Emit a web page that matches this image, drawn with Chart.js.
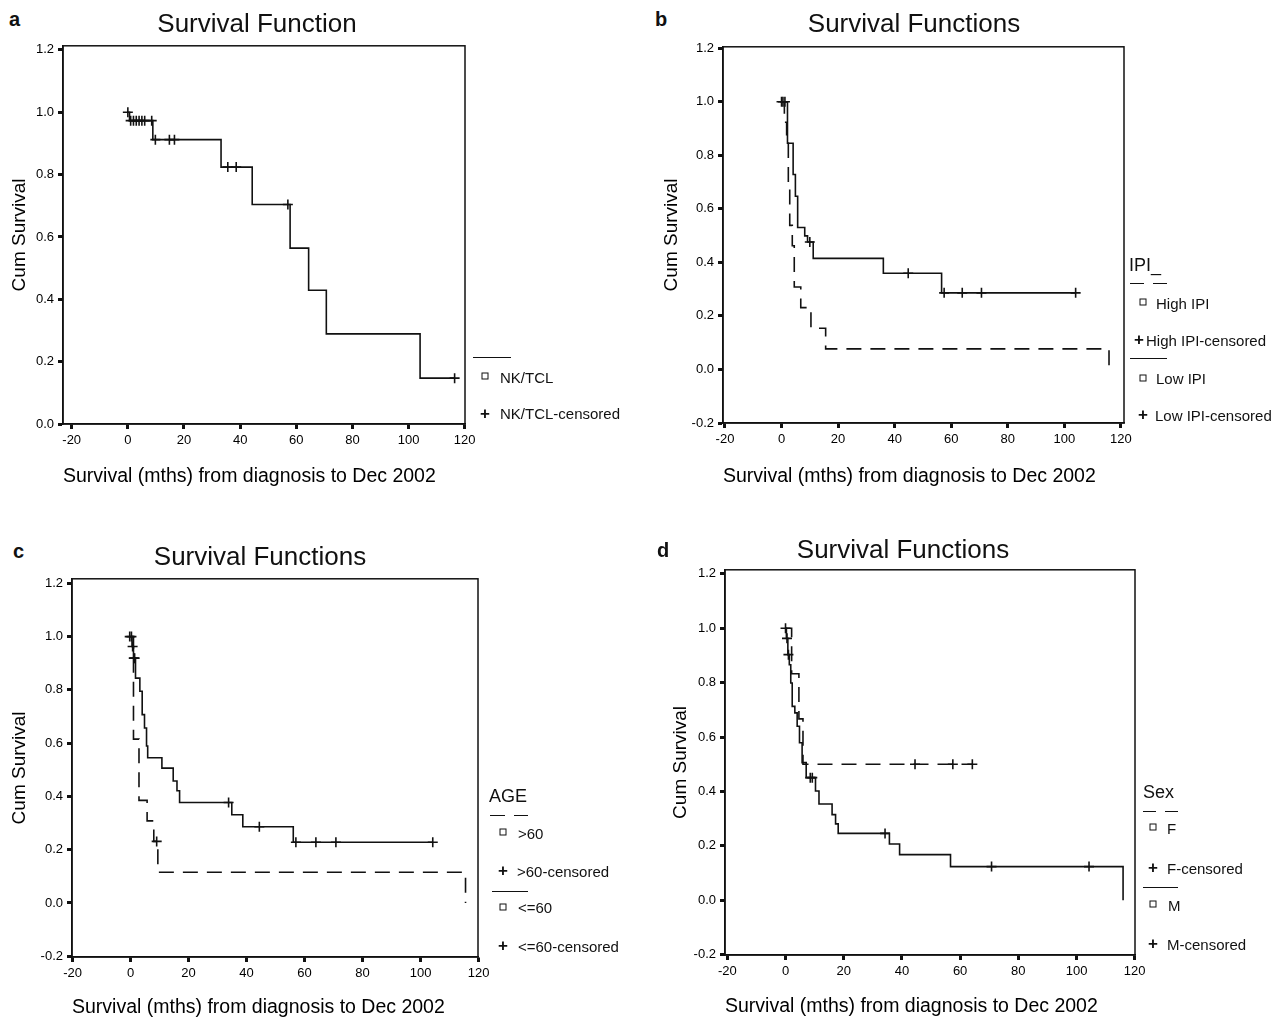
<!DOCTYPE html>
<html>
<head>
<meta charset="utf-8">
<script src="https://cdn.jsdelivr.net/npm/chart.js@4.4.1/dist/chart.umd.min.js"></script>
<style>
body { margin: 0; background: #fff; font-family: 'Liberation Sans', Arial, sans-serif; }
#page { position: relative; width: 1283px; height: 1022px; overflow: hidden; background: #fff; }
canvas { position: absolute; }
.txt { position: absolute; white-space: nowrap; color: #111; line-height: 1; transform: translateY(-50%); }
.ttl { transform: translate(-50%, -50%); }
.ln { position: absolute; height: 0; border-top: 1.6px solid #111; }
.sq { position: absolute; width: 5px; height: 5px; border: 1.5px solid #111; transform: translate(-50%, -50%); }
</style>
</head>
<body>
<div id="page"></div>
<script>
// tick labels shared by all panels
const xTickVals = [-20, 0, 20, 40, 60, 80, 100, 120];
const yTickValsA = [0, 0.2, 0.4, 0.6, 0.8, 1.0, 1.2];
const yTickVals = [-0.2, 0, 0.2, 0.4, 0.6, 0.8, 1.0, 1.2];

// panel a - NK/TCL
const aTimes = [0, 0.6, 8.9, 33.2, 44.3, 57.8, 64.4, 70.7, 104.1, 116.4];
const aSurv  = [1.0, 0.973, 0.912, 0.824, 0.704, 0.564, 0.429, 0.289, 0.147, 0.147];
const aCens  = [0, 1, 2, 3, 4, 5, 6, 8.5, 9.8, 14.8, 16.6, 35.6, 38.6, 57.0, 116.4];

// panel b - IPI
const bHighTimes = [0, 1.0, 1.8, 2.4, 2.9, 3.8, 4.5, 6.8, 10.4, 15.6, 115.8];
const bHighSurv  = [1.0, 0.923, 0.846, 0.692, 0.538, 0.462, 0.308, 0.231, 0.154, 0.077, 0.0];
const bHighCens  = [0];
const bLowTimes = [0, 2.1, 4.1, 4.9, 5.7, 8.2, 9.2, 11.2, 36.0, 56.6, 104];
const bLowSurv  = [1.0, 0.845, 0.728, 0.647, 0.53, 0.499, 0.476, 0.415, 0.359, 0.286, 0.286];
const bLowCens  = [0.5, 1.2, 10, 44.8, 57.5, 63.9, 70.7, 104];

// panel c - AGE
const cOldTimes = [0, 1.0, 2.9, 5.7, 8.0, 9.4, 115.5];
const cOldSurv  = [1.0, 0.615, 0.385, 0.308, 0.231, 0.115, 0.0];
const cOldCens  = [9.0];
const cYoungTimes = [0, 0.5, 1.0, 1.7, 3.2, 4.0, 4.8, 5.5, 5.9, 10.8, 14.7, 16.0, 16.9, 34.9, 38.7, 56.1, 104.2];
const cYoungSurv  = [1.0, 0.963, 0.919, 0.844, 0.795, 0.707, 0.657, 0.589, 0.545, 0.506, 0.458, 0.421, 0.377, 0.331, 0.286, 0.228, 0.228];
const cYoungCens  = [-0.3, 0.3, 0.7, 1.1, 1.4, 33.8, 44.4, 57.0, 63.9, 70.8, 104.2];

// panel d - Sex
const dFTimes = [0, 2.1, 4.6, 6.0, 64.2];
const dFSurv  = [1.0, 0.833, 0.667, 0.5, 0.5];
const dFCens  = [44.5, 57.5, 64.2];
const dMTimes = [0, 0.3, 0.8, 1.3, 1.8, 2.3, 3.2, 4.0, 4.8, 5.7, 7.1, 10.3, 11.5, 16.0, 17.2, 18.1, 35.7, 39.2, 56.7, 116.0];
const dMSurv  = [1.0, 0.963, 0.903, 0.866, 0.799, 0.713, 0.689, 0.640, 0.579, 0.506, 0.451, 0.402, 0.354, 0.315, 0.281, 0.246, 0.207, 0.168, 0.124, 0.0];
const dMCens  = [0, 0.5, 1.0, 8.5, 9.2, 34.2, 70.8, 104.3];

const ink = '#111';
const font = "'Liberation Sans', Arial, sans-serif";
const page = document.getElementById('page');

function levelAt(times, surv, t) {
    let v = surv[0];
    for (let i = 0; i < times.length; i++) if (times[i] <= t) v = surv[i];
    return v;
}

const framePlugin = {
    id: 'frame',
    afterDraw(chart) {
        const a = chart.chartArea, ctx = chart.ctx;
        ctx.save();
        ctx.strokeStyle = ink;
        ctx.lineWidth = 1.5;
        ctx.strokeRect(a.left, a.top, a.right - a.left, a.bottom - a.top);
        ctx.restore();
    }
};

function makePanel(p) {
    const padTop = 10, padRight = 16;
    const cv = document.createElement('canvas');
    const w = p.wy + (p.R - p.L) + padRight;
    const h = padTop + (p.B - p.T) + p.hx;
    cv.width = w; cv.height = h;
    cv.style.left = (p.L - p.wy) + 'px';
    cv.style.top = (p.T - padTop) + 'px';
    page.appendChild(cv);

    const datasets = [];
    p.series.forEach(s => {
        datasets.push({
            data: s.times.map((t, i) => ({x: t, y: s.surv[i]})),
            stepped: true,
            borderColor: ink,
            borderWidth: 1.6,
            borderDash: s.dash ? [15, 9] : [],
            pointRadius: 0,
            fill: false
        });
        datasets.push({
            data: s.cens.map(t => ({x: t, y: levelAt(s.times, s.surv, t)})),
            showLine: false,
            pointStyle: 'cross',
            pointRadius: 5,
            borderColor: ink,
            borderWidth: 1.6
        });
    });

    new Chart(cv, {
        type: 'line',
        data: {datasets: datasets},
        plugins: [framePlugin],
        options: {
            responsive: false,
            animation: false,
            layout: {padding: {top: padTop, right: padRight, left: 0, bottom: 0}},
            plugins: {legend: {display: false}, tooltip: {enabled: false}},
            scales: {
                x: {
                    type: 'linear',
                    min: p.xMin, max: p.xMax,
                    afterBuildTicks: s => { s.ticks = xTickVals.map(v => ({value: v})); },
                    afterFit: s => { s.height = p.hx; },
                    grid: {drawOnChartArea: false, drawTicks: true, tickLength: 5, tickWidth: 3, color: ink},
                    border: {display: true, color: ink, width: 1.5},
                    ticks: {color: '#000', font: {family: font, size: 13}, padding: 4, maxRotation: 0},
                    title: {display: true, text: 'Survival (mths) from diagnosis to Dec 2002', align: 'start',
                            color: '#000', font: {family: font, size: 19.5}, padding: {top: 0, bottom: 4}}
                },
                y: {
                    type: 'linear',
                    min: p.yMin, max: p.yMax,
                    afterBuildTicks: s => { s.ticks = p.yTicks.map(v => ({value: v})); },
                    afterFit: s => { s.width = p.wy; },
                    grid: {drawOnChartArea: false, drawTicks: true, tickLength: 5, tickWidth: 3, color: ink},
                    border: {display: true, color: ink, width: 1.5},
                    ticks: {color: '#000', font: {family: font, size: 13}, padding: 4,
                            callback: v => (Math.abs(v) < 1e-9 ? 0 : v).toFixed(1)},
                    title: {display: true, text: 'Cum Survival', color: '#000',
                            font: {family: font, size: 19}, padding: {top: 8, bottom: 0}}
                }
            }
        }
    });
}

function addText(x, y, text, size, extra) {
    const d = document.createElement('div');
    d.className = 'txt' + (extra && extra.center ? ' ttl' : '');
    d.textContent = text;
    d.style.left = x + 'px';
    d.style.top = y + 'px';
    d.style.fontSize = size + 'px';
    if (extra && extra.bold) d.style.fontWeight = 'bold';
    page.appendChild(d);
}
function addLine(x1, x2, y, dashed) {
    if (dashed) {
        const seg = (x2 - x1 - 9) / 2;
        addLine(x1, x1 + seg, y, false);
        addLine(x2 - seg, x2, y, false);
        return;
    }
    const d = document.createElement('div');
    d.className = 'ln';
    d.style.left = x1 + 'px';
    d.style.top = y + 'px';
    d.style.width = (x2 - x1) + 'px';
    page.appendChild(d);
}
function addSquare(x, y) {
    const d = document.createElement('div');
    d.className = 'sq';
    d.style.left = x + 'px';
    d.style.top = y + 'px';
    page.appendChild(d);
}
function addPlus(x, y) {
    addText(x, y, '+', 17, {center: true, bold: true});
}

// panel a
makePanel({L: 63, T: 44, R: 465, B: 424, wy: 63, hx: 68, xMin: -23.1, xMax: 120.1, yMin: 0, yMax: 1.213,
    yTicks: yTickValsA, series: [{times: aTimes, surv: aSurv, cens: aCens, dash: false}]});
// panel b
makePanel({L: 723, T: 45, R: 1124, B: 423, wy: 71, hx: 69, xMin: -20.7, xMax: 121.1, yMin: -0.2, yMax: 1.205,
    yTicks: yTickVals, series: [
        {times: bHighTimes, surv: bHighSurv, cens: bHighCens, dash: true},
        {times: bLowTimes, surv: bLowSurv, cens: bLowCens, dash: false}]});
// panel c
makePanel({L: 72, T: 577, R: 478, B: 957, wy: 72, hx: 66, xMin: -20.2, xMax: 119.8, yMin: -0.203, yMax: 1.217,
    yTicks: yTickVals, series: [
        {times: cOldTimes, surv: cOldSurv, cens: cOldCens, dash: true},
        {times: cYoungTimes, surv: cYoungSurv, cens: cYoungCens, dash: false}]});
// panel d
makePanel({L: 725, T: 568, R: 1135, B: 955, wy: 64, hx: 67, xMin: -20.8, xMax: 120.1, yMin: -0.201, yMax: 1.215,
    yTicks: yTickVals, series: [
        {times: dFTimes, surv: dFSurv, cens: dFCens, dash: true},
        {times: dMTimes, surv: dMSurv, cens: dMCens, dash: false}]});

// panel letters and titles
addText(9, 19, 'a', 20, {bold: true});
addText(655, 19, 'b', 20, {bold: true});
addText(13, 551, 'c', 20, {bold: true});
addText(657, 550, 'd', 20, {bold: true});
addText(257, 23, 'Survival Function', 26, {center: true});
addText(914, 23, 'Survival Functions', 26, {center: true});
addText(260, 556, 'Survival Functions', 26, {center: true});
addText(903, 549, 'Survival Functions', 26, {center: true});

// legends
addLine(473, 511, 357, false);
addSquare(485, 376); addText(500, 377, 'NK/TCL', 15);
addPlus(485, 413); addText(500, 413, 'NK/TCL-censored', 15);

addText(1129, 265, 'IPI_', 18);
addLine(1130, 1167, 283, true);
addSquare(1143, 302); addText(1156, 303, 'High IPI', 15);
addPlus(1139, 339); addText(1146, 340, 'High IPI-censored', 15);
addLine(1130, 1167, 358, false);
addSquare(1143, 378); addText(1156, 378, 'Low IPI', 15);
addPlus(1143, 414); addText(1155, 415, 'Low IPI-censored', 15);

addText(489, 796, 'AGE', 18);
addLine(490, 528, 815, true);
addSquare(503, 832); addText(518, 833, '>60', 15);
addPlus(503, 870); addText(517, 871, '>60-censored', 15);
addLine(492, 528, 891, false);
addSquare(503, 907); addText(518, 907, '<=60', 15);
addPlus(503, 945); addText(518, 946, '<=60-censored', 15);

addText(1143, 792, 'Sex', 18);
addLine(1143, 1178, 811, true);
addSquare(1153, 827); addText(1167, 828, 'F', 15);
addPlus(1153, 867); addText(1167, 868, 'F-censored', 15);
addLine(1143, 1178, 887, false);
addSquare(1153, 904); addText(1168, 905, 'M', 15);
addPlus(1153, 943); addText(1167, 944, 'M-censored', 15);
</script>
</body>
</html>
